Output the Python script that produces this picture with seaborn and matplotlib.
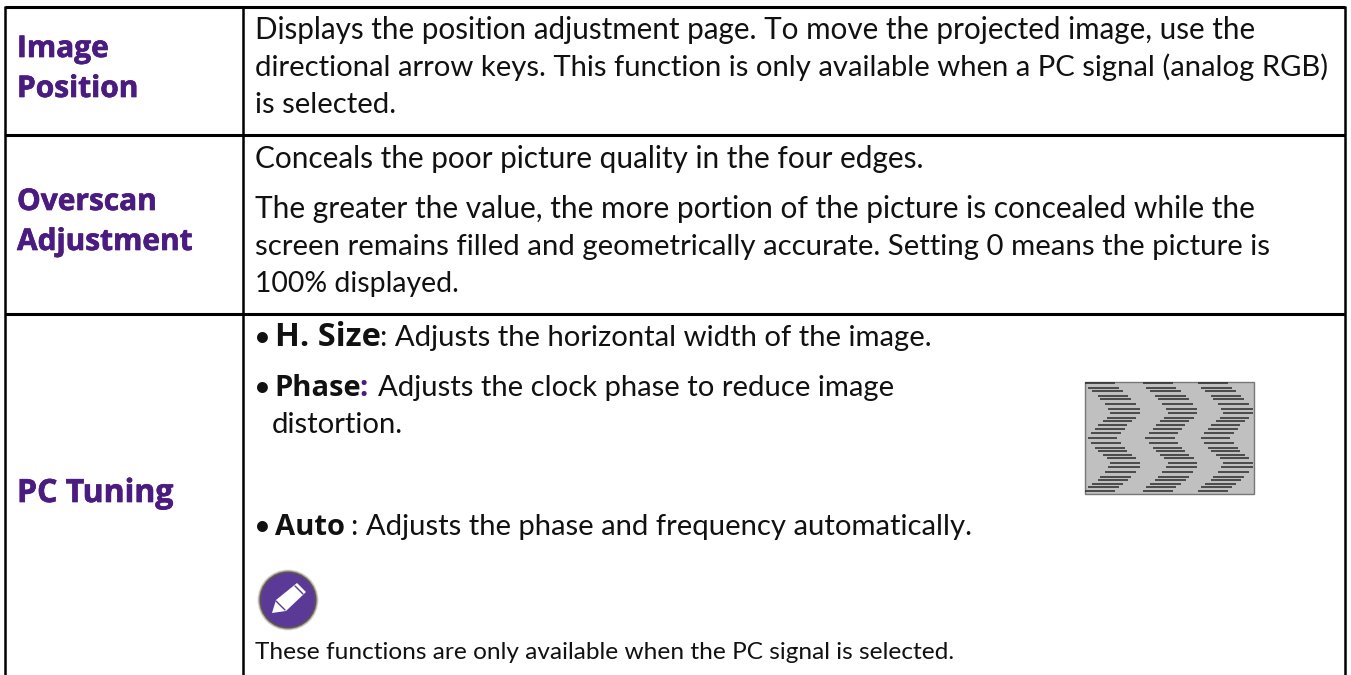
import matplotlib
matplotlib.use("Agg")
import matplotlib.pyplot as plt
from matplotlib.patches import Circle, Polygon, Rectangle
import matplotlib.patheffects as pe
import seaborn as sns

sns.set_theme(style="white")
plt.rcParams['font.family'] = ['Lato', 'DejaVu Sans']

PURPLE = "#4b1c80"
INK = "#111111"
HEAD = ['Open Sans', 'DejaVu Sans']

# left column labels
label_lines = ["Image", "Position", "Overscan", "Adjustment", "PC Tuning"]
label_base = [57, 97, 210, 250, 502]
label_size = [21.5, 21.5, 21.5, 21.5, 23]

# right column plain lines
body_lines = [
    "Displays the position adjustment page. To move the projected image, use the",
    "directional arrow keys. This function is only available when a PC signal (analog RGB)",
    "is selected.",
    "Conceals the poor picture quality in the four edges.",
    "The greater the value, the more portion of the picture is concealed while the",
    "screen remains filled and geometrically accurate. Setting 0 means the picture is",
    "100% displayed.",
]
body_base = [39, 76, 113, 168, 218, 255, 292]
body_size = [21.3, 21.1, 21.1, 21.4, 21.5, 21.2, 20.4]

# chevron test pattern: left and right ends of each stripe in the first column
stripe_y = [70, 84, 94, 107, 116, 131, 146, 158, 173, 183, 195, 206, 220, 235,
            249, 263, 273, 285, 295, 309, 320, 335, 350, 359, 371, 381, 393]
stripe_left = [75, 85, 97, 113, 121, 134, 145, 151, 140, 128, 114, 106, 94, 83,
               94, 106, 114, 128, 140, 151, 145, 134, 121, 113, 97, 85, 75]
stripe_right = [166, 176, 190, 205, 214, 227, 239, 239, 228, 215, 202, 194, 182, 171,
                182, 194, 202, 215, 228, 239, 239, 227, 214, 205, 190, 176, 166]
column_shift = [0, 173, 339]

fig = plt.figure(figsize=(13.51, 6.75), dpi=100)
ax = fig.add_axes([0, 0, 1, 1])
ax.set_xlim(0, 1351)
ax.set_ylim(675, 0)
ax.axis("off")


def put(x, y, s, size=21.1, weight="normal", color=INK, family=None, stroke=0):
    t = ax.text(x, y, s, fontsize=size, fontweight=weight, color=color,
                va="baseline", ha="left", family=family or plt.rcParams['font.family'])
    if stroke:
        t.set_path_effects([pe.withStroke(linewidth=stroke, foreground=color)])


# table rules
for y in [7, 135, 314]:
    ax.plot([5, 1345], [y, y], color="black", lw=2.2, solid_capstyle="butt")
for x in [5, 243, 1345]:
    ax.plot([x, x], [6, 675], color="black", lw=1.8, solid_capstyle="butt")

for s, y, sz in zip(label_lines, label_base, label_size):
    put(17, y, s, size=sz, weight="bold", color=PURPLE, family=HEAD, stroke=0.5)

for s, y, sz in zip(body_lines, body_base, body_size):
    put(255, y, s, size=sz)

# PC Tuning bullets
put(254, 346, "•")
put(275, 346, "H. Size", size=23.5, weight="bold", family=HEAD)
put(380, 346, ": Adjusts the horizontal width of the image.")
put(254, 396, "•")
put(274, 396, "Phase", size=21, weight="bold", family=HEAD)
put(359, 396, ":", weight="bold", color=PURPLE, family=HEAD)
put(378, 396, "Adjusts the clock phase to reduce image")
put(272, 433, "distortion.")
put(254, 535, "•")
put(275, 535, "Auto", size=21, weight="bold", family=HEAD)
put(351, 535, ": Adjusts the phase and frequency automatically.")
put(255, 659, "These functions are only available when the PC signal is selected.", size=17.6)

# test pattern
ax.add_patch(Rectangle((1084.5, 381.5), 169, 112, facecolor="#c0c0c0",
                       edgecolor="#777777", lw=1))
for shift in column_shift:
    for y, a, b in zip(stripe_y, stripe_left, stripe_right):
        ax.plot([1060 + (a + shift) / 3, 1060 + (b + shift) / 3],
                [360 + y / 3, 360 + y / 3], color="#2a2a2a", lw=1.1,
                solid_capstyle="butt")

# note icon
ax.add_patch(Circle((288, 600), 30.5, facecolor="#dcd9d5", edgecolor="none"))
ax.add_patch(Circle((288, 600), 29.5, facecolor="#a8a39d", edgecolor="none"))
ax.add_patch(Circle((288, 600), 28.5, facecolor="#5e554c", edgecolor="none"))
ax.add_patch(Circle((288, 600), 27, facecolor="#5b3a97", edgecolor="none"))
ax.add_patch(Polygon([(272, 613), (276, 600), (297, 583), (306, 592), (286, 611)],
                     facecolor="white", edgecolor="none"))
ax.plot([295, 303], [586, 594], color="#5b3a97", lw=1.0)
ax.plot([276, 285], [601, 610], color="#5b3a97", lw=1.0)

fig.savefig("out.png", dpi=100, facecolor="white")
